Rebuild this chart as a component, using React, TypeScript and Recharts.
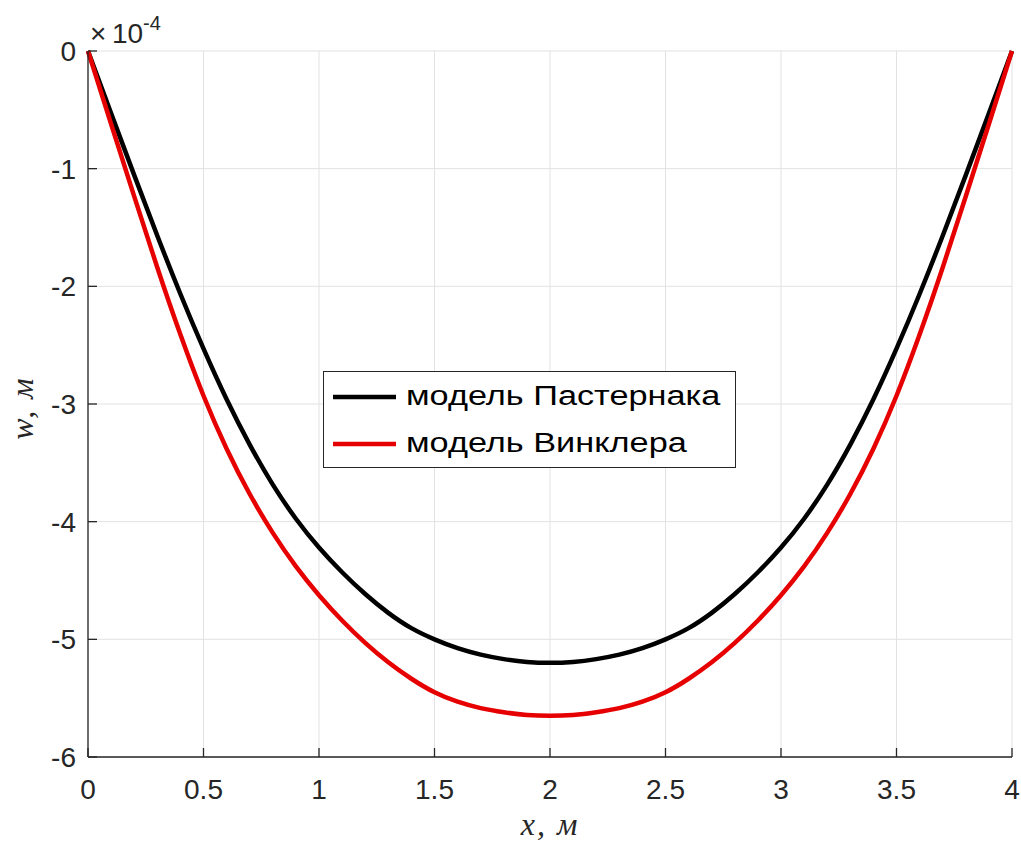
import React from 'react';
import {
  LineChart,
  Line,
  XAxis,
  YAxis,
  CartesianGrid,
  Legend,
} from 'recharts';

// Прогиб балки на упругом основании, w (×10^-4 м) по длине x (м)
const xs = [
  0, 0.1, 0.2, 0.3, 0.4, 0.5, 0.6, 0.7, 0.8, 0.9, 1, 1.1, 1.2, 1.3, 1.4, 1.5, 1.6, 1.7, 1.8, 1.9, 2,
  2.1, 2.2, 2.3, 2.4, 2.5, 2.6, 2.7, 2.8, 2.9, 3, 3.1, 3.2, 3.3, 3.4, 3.5, 3.6, 3.7, 3.8, 3.9, 4,
];
const pasternak = [
  0, -0.53, -1.055, -1.57, -2.065, -2.53, -2.96, -3.345, -3.685, -3.975, -4.22, -4.43, -4.615, -4.775,
  -4.905, -5.0, -5.075, -5.13, -5.168, -5.192, -5.2,
  -5.192, -5.168, -5.13, -5.075, -5.0, -4.905, -4.775, -4.615, -4.43, -4.22, -3.975, -3.685, -3.345,
  -2.96, -2.53, -2.065, -1.57, -1.055, -0.53, 0,
];
const winkler = [
  0, -0.62, -1.235, -1.84, -2.41, -2.93, -3.38, -3.765, -4.095, -4.38, -4.625, -4.84, -5.03, -5.195,
  -5.335, -5.45, -5.53, -5.585, -5.62, -5.643, -5.65,
  -5.643, -5.62, -5.585, -5.53, -5.45, -5.335, -5.195, -5.03, -4.84, -4.625, -4.38, -4.095, -3.765,
  -3.38, -2.93, -2.41, -1.84, -1.235, -0.62, 0,
];

const xTicks = [0, 0.5, 1, 1.5, 2, 2.5, 3, 3.5, 4];
const yTicks = [-6, -5, -4, -3, -2, -1, 0];

const SERIES = [
  { key: 'pasternak', name: 'модель Пастернака', color: '#000000' },
  { key: 'winkler', name: 'модель Винклера', color: '#e60000' },
];

const AXIS = '#262626';
const GRID = '#e2e2e2';
const SANS = '"Liberation Sans", Arial, Helvetica, sans-serif';
const SERIF = '"Liberation Serif", "Times New Roman", serif';

const data = xs.map((x, i) => ({ x, pasternak: pasternak[i], winkler: winkler[i] }));

function BottomTick({ x, y, payload }: any) {
  return (
    <g>
      <line x1={x} x2={x} y1={y} y2={y - 9} stroke={AXIS} strokeWidth={1.3} />
      <text x={x} y={y + 42} textAnchor="middle" fontSize={28} fill={AXIS} fontFamily={SANS}>
        {payload.value}
      </text>
    </g>
  );
}

function TopTick({ x, y }: any) {
  return <line x1={x} x2={x} y1={y} y2={y + 9} stroke={AXIS} strokeWidth={1.3} />;
}

function LeftTick({ x, y, payload }: any) {
  return (
    <g>
      <line x1={x} x2={x + 9} y1={y} y2={y} stroke={AXIS} strokeWidth={1.3} />
      <text x={x - 12} y={y + 10} textAnchor="end" fontSize={28} fill={AXIS} fontFamily={SANS}>
        {payload.value}
      </text>
    </g>
  );
}

function RightTick({ x, y }: any) {
  return <line x1={x} x2={x - 9} y1={y} y2={y} stroke={AXIS} strokeWidth={1.3} />;
}

// множитель ×10^-4 над осью и подпись оси w
function YAxisTexts({ viewBox }: any) {
  const x0 = viewBox.x + viewBox.width;
  const y0 = viewBox.y;
  const cy = viewBox.y + viewBox.height / 2 + 4;
  return (
    <g>
      <text fill={AXIS} fontFamily={SANS}>
        <tspan x={x0 + 2} y={y0 - 8} fontSize={28}>×</tspan>
        <tspan x={x0 + 24} y={y0 - 8} fontSize={28}>10</tspan>
        <tspan x={x0 + 55} y={y0 - 21} fontSize={20}>-4</tspan>
      </text>
      <text
        x={33}
        y={cy}
        transform={`rotate(-90, 33, ${cy})`}
        textAnchor="middle"
        fontSize={32}
        letterSpacing={2}
        fontStyle="italic"
        fill={AXIS}
        fontFamily={SERIF}
      >
        w, м
      </text>
    </g>
  );
}

function XTitle({ viewBox }: any) {
  const cx = viewBox.x + viewBox.width / 2;
  return (
    <text
      x={cx}
      y={835}
      textAnchor="middle"
      fontSize={32}
      letterSpacing={2}
      fontStyle="italic"
      fill={AXIS}
      fontFamily={SERIF}
    >
      x, м
    </text>
  );
}

function LegendBox() {
  return (
    <div
      style={{
        boxSizing: 'border-box',
        width: 413,
        height: 97,
        border: `1.3px solid ${AXIS}`,
        background: '#fff',
        padding: '1px 0 0 9px',
      }}
    >
      {SERIES.map((s) => (
        <div key={s.key} style={{ display: 'flex', alignItems: 'center', height: 47 }}>
          <svg width={63} height={8} style={{ display: 'block' }}>
            <line x1={0} x2={63} y1={4} y2={4} stroke={s.color} strokeWidth={4.5} />
          </svg>
          <span
            style={{
              display: 'inline-block',
              marginLeft: 10,
              fontSize: 27,
              fontFamily: SANS,
              color: '#000',
              lineHeight: '47px',
              whiteSpace: 'nowrap',
              transform: 'scaleX(1.27)',
              transformOrigin: 'left center',
            }}
          >
            {s.name}
          </span>
        </div>
      ))}
    </div>
  );
}

export default function App() {
  return (
    <div style={{ width: 1021, height: 850, background: '#fff' }}>
      <style>{'body{margin:0}'}</style>
      <LineChart
        width={1021}
        height={850}
        data={data}
        margin={{ top: 51, right: 9, bottom: 33, left: 0 }}
      >
        <CartesianGrid stroke={GRID} strokeWidth={1} />
        <XAxis
          dataKey="x"
          type="number"
          domain={[0, 4]}
          ticks={xTicks}
          height={60}
          tickSize={0}
          tickMargin={0}
          tickLine={false}
          axisLine={{ stroke: AXIS, strokeWidth: 1.3 }}
          tick={<BottomTick />}
          interval={0}
          label={<XTitle />}
        />
        <XAxis
          xAxisId="top"
          orientation="top"
          dataKey="x"
          type="number"
          domain={[0, 4]}
          ticks={xTicks}
          height={0}
          tickSize={0}
          tickMargin={0}
          tickLine={false}
          axisLine={{ stroke: AXIS, strokeWidth: 1.3 }}
          tick={<TopTick />}
          interval={0}
        />
        <YAxis
          type="number"
          domain={[-6, 0]}
          ticks={yTicks}
          width={88}
          tickSize={0}
          tickMargin={0}
          tickLine={false}
          axisLine={{ stroke: AXIS, strokeWidth: 1.3 }}
          tick={<LeftTick />}
          interval={0}
          label={<YAxisTexts />}
        />
        <YAxis
          yAxisId="right"
          orientation="right"
          type="number"
          domain={[-6, 0]}
          ticks={yTicks}
          width={0}
          tickSize={0}
          tickMargin={0}
          tickLine={false}
          axisLine={{ stroke: AXIS, strokeWidth: 1.3 }}
          tick={<RightTick />}
          interval={0}
        />
        <Legend
          layout="vertical"
          align="center"
          verticalAlign="middle"
          content={<LegendBox />}
          wrapperStyle={{ left: 323, top: 371, width: 413, height: 97 }}
        />
        <Line
          dataKey="pasternak"
          type="natural"
          stroke="#000000"
          strokeWidth={4.5}
          dot={false}
          isAnimationActive={false}
        />
        <Line
          dataKey="winkler"
          type="natural"
          stroke="#e60000"
          strokeWidth={4.5}
          dot={false}
          isAnimationActive={false}
        />
      </LineChart>
    </div>
  );
}
